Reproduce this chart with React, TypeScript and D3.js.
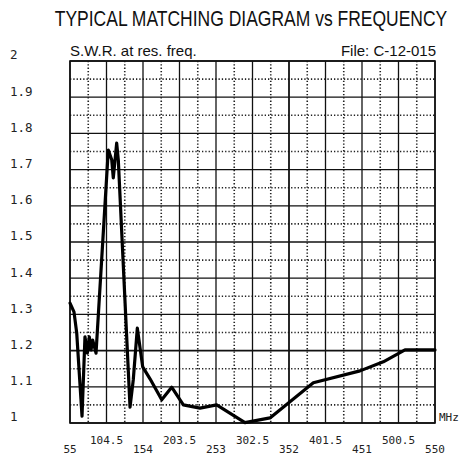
import React from 'react';
import * as d3 from 'd3';

// frequency (MHz) and S.W.R.
const freqs = [55, 60.4, 64.1, 71.3, 75.3, 78.5, 81.2, 83.5, 85.8, 90.3, 106.9, 111.6, 113.7, 118.3, 120.5,
  136.4, 140.8, 146.3, 153.6, 163.5, 179.4, 192.9, 208.7, 231.3, 253.9, 292.3, 326.2, 385, 448.3, 479.9, 509.3, 550];
const swrValues = [1.331, 1.307, 1.249, 1.019, 1.238, 1.193, 1.238, 1.202, 1.229, 1.193, 1.754, 1.727, 1.677, 1.773, 1.727,
  1.044, 1.119, 1.262, 1.155, 1.122, 1.064, 1.099, 1.05, 1.041, 1.05, 1.001, 1.014, 1.111, 1.144, 1.169, 1.202, 1.202];

const xTicks = [55, 104.5, 154, 203.5, 253, 302.5, 352, 401.5, 451, 500.5, 550];
const xTickLabels = ['55', '104.5', '154', '203.5', '253', '302.5', '352', '401.5', '451', '500.5', '550'];
const yTicks = [1, 1.1, 1.2, 1.3, 1.4, 1.5, 1.6, 1.7, 1.8, 1.9, 2];
const yTickLabels = ['1', '1.1', '1.2', '1.3', '1.4', '1.5', '1.6', '1.7', '1.8', '1.9', '2'];

const W = 462;
const H = 456;
const margin = { top: 61, right: 27, bottom: 33, left: 70 };

export default function App() {
  const x = d3.scaleLinear().domain([55, 550]).range([margin.left, W - margin.right]);
  const y = d3.scaleLinear().domain([1, 2]).range([H - margin.bottom, margin.top]);

  const line = d3.line<number>()
    .x((_, i) => x(freqs[i]))
    .y(d => y(d));

  // dotted lines sit halfway between the solid ones
  const xMinor = xTicks.slice(1).map((t, i) => (t + xTicks[i]) / 2);
  const yMinor = yTicks.slice(1).map((t, i) => (t + yTicks[i]) / 2);

  const [x0, x1] = x.range();
  const [y0, y1] = y.range();
  const mono = '"DejaVu Sans Mono", monospace';
  const sans = '"Liberation Sans", Arial, sans-serif';

  return (
    <svg width={W} height={H} style={{ position: 'absolute', left: 0, top: 0, background: '#fff' }}>
      <text transform="translate(251,26) scale(1,1.25)" textAnchor="middle" fontFamily={sans} fontSize={17.5} fill="#111">
        TYPICAL MATCHING DIAGRAM vs FREQUENCY
      </text>
      <text x={70} y={56} fontFamily={sans} fontSize={15} fill="#111">
        S.W.R. at res. freq.
      </text>
      <text x={436} y={56} textAnchor="end" fontFamily={sans} fontSize={15} fill="#111">
        File:  C-12-015
      </text>

      {xMinor.map(t => (
        <line key={'xm' + t} x1={x(t)} x2={x(t)} y1={y1} y2={y0} stroke="#222" strokeWidth={1.6} strokeDasharray="1.3,2" />
      ))}
      {yMinor.map(t => (
        <line key={'ym' + t} x1={x0} x2={x1} y1={y(t)} y2={y(t)} stroke="#222" strokeWidth={1.6} strokeDasharray="1.3,2" />
      ))}

      {xTicks.map(t => (
        <line key={'xt' + t} x1={x(t)} x2={x(t)} y1={y1} y2={y0} stroke="#111" strokeWidth={t === 352 ? 1.8 : 1.3} />
      ))}
      {yTicks.map(t => (
        <line key={'yt' + t} x1={x0} x2={x1} y1={y(t)} y2={y(t)} stroke="#111" strokeWidth={t === 1.2 ? 1.8 : 1.3} />
      ))}
      <rect x={x0} y={y1} width={x1 - x0} height={y0 - y1} fill="none" stroke="#111" strokeWidth={1.6} />

      <path d={line(swrValues) || ''} fill="none" stroke="#000" strokeWidth={3.2} strokeLinejoin="round" strokeLinecap="round" />

      {yTicks.map((t, i) => (
        <text key={'yl' + t} x={10} y={y(t) - 6} dy="0.35em" fontFamily={mono} fontSize={12.5} fill="#222">
          {yTickLabels[i]}
        </text>
      ))}
      {xTicks.map((t, i) => (
        <text key={'xl' + t} x={x(t)} y={i % 2 === 0 ? 453 : 444} textAnchor="middle" fontFamily={mono} fontSize={11} fill="#222">
          {xTickLabels[i]}
        </text>
      ))}
      <text x={439} y={421} fontFamily={mono} fontSize={11} fill="#222">MHz</text>
    </svg>
  );
}
